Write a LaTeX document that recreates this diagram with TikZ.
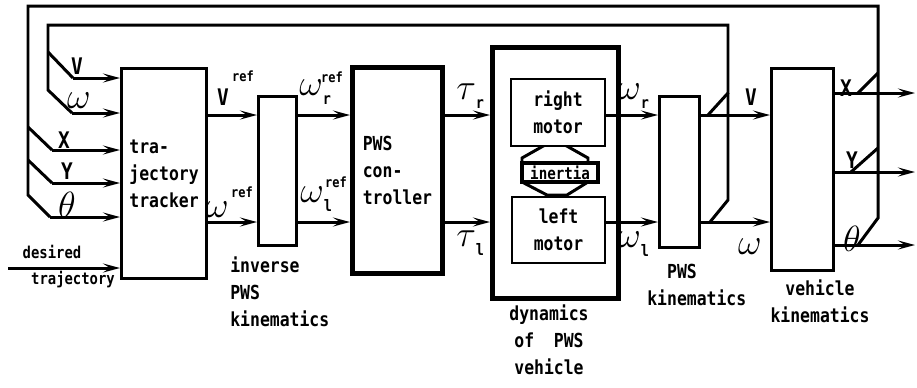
\documentclass[tikz,border=0pt]{standalone}
\usepackage{fontspec}
\usetikzlibrary{arrows.meta}
\newfontfamily\monofont{DejaVu Sans Mono}[FakeStretch=0.85]
\newcommand\mono[1]{\monofont\bfseries\fontsize{#1}{15.3}\selectfont}
\newcommand\sub[1]{\raisebox{-0.6ex}{\mono{9}#1}}
\begin{document}
\begin{tikzpicture}[x=0.02cm, y=-0.02cm, >={Stealth[length=3.4mm, width=1.8mm, inset=1.4mm]},
    box/.style={draw, line width=1.8pt, fill=white, inner sep=0pt, anchor=north west, align=left, font=\mono{11}},
    heavybox/.style={box, line width=2.8pt},
    motorbox/.style={box, line width=1.2pt, align=center},
    wire/.style={line width=1.7pt},
    sig/.style={wire, ->},
    lbl/.style={inner sep=0pt, font=\mono{11}},
    var/.style={inner sep=0pt, font=\mono{13}},
    sym/.style={inner sep=0pt, font=\fontsize{20}{20}\selectfont},
    rf/.style={inner sep=0pt, font=\mono{8}}]
  \useasboundingbox (0,0) rectangle (917,387);
  % blocks
  \node[box, minimum width=1.70cm, minimum height=4.20cm] (trk) at (120,67) {tra-\\jectory\\tracker};
  \node[box, minimum width=0.76cm, minimum height=2.98cm] (ipk) at (257,95) {};
  \node[heavybox, minimum width=1.80cm, minimum height=4.12cm] (ctl) at (350,65) {PWS\\con-\\troller};
  \node[heavybox, minimum width=2.52cm, minimum height=5.02cm] (dyn) at (490,45) {};
  \draw[wire, fill=white] (545,145) -- (565,145) -- (588,158) -- (588,182) -- (567,195) -- (547,195) -- (522,182) -- (522,158) -- cycle;
  \node[motorbox, minimum width=1.88cm, minimum height=1.34cm] (rmot) at (510,78) {right\\motor};
  \node[motorbox, minimum width=1.86cm, minimum height=1.32cm] (lmot) at (511,196) {left\\motor};
  \node[box, line width=2.4pt, minimum width=1.52cm, minimum height=0.38cm, align=center, font=\mono{9.5}] (inr) at (520,161) {inertia};
  \node[box, minimum width=0.80cm, minimum height=3.02cm] (pk) at (658,95) {};
  \node[box, minimum width=1.24cm, minimum height=4.04cm] (vk) at (770,67) {};
  % forward signals
  \coordinate (yr) at (0,115);
  \coordinate (yl) at (0,222);
  \foreach \a/\b/\r in {trk/ipk/yr, trk/ipk/yl, ipk/ctl/yr, ipk/ctl/yl, ctl/dyn/yr, ctl/dyn/yl, rmot/pk/yr, lmot/pk/yl, pk/vk/yr, pk/vk/yl}
    \draw[sig] (\a.east |- \r) -- (\b.west |- \r);
  \coordinate (outx) at (915,93);
  \coordinate (outy) at (915,172);
  \coordinate (outt) at (915,245);
  \foreach \p in {outx,outy,outt}
    \draw[sig] (vk.east |- \p) -- (\p);
  \coordinate (des) at (8,268);
  \draw[sig] (des) -- (des -| trk.west);
  % feedback of v, omega
  \coordinate (tapv) at (708,115);
  \coordinate (tapw) at (710,222);
  \draw[wire] (tapv) -- (728,93) |- (48,25) -- (48,90) -- (72,113) coordinate (inw);
  \draw[wire] (728,93) -- (728,200) -- (tapw);
  \draw[wire] (48,52) -- (73,78) coordinate (inv);
  % feedback of x, y, theta
  \coordinate (tapx) at (858,93);
  \coordinate (tapy) at (851,172);
  \coordinate (tapt) at (858,245);
  \draw[wire] (tapt) -- (878,218) -- (878,6) -| (28,195) -- (50,217) coordinate (int);
  \draw[wire] (tapx) -- (878,73);
  \draw[wire] (tapy) -- (878,148);
  \draw[wire] (28,127) -- (52,150) coordinate (inx);
  \draw[wire] (28,160) -- (52,183) coordinate (iny);
  \foreach \p in {inv,inw,inx,iny,int}
    \draw[sig] (\p) -- (\p -| trk.west);
  % labels
  \node[var] (lv) at (77,66) {V};
  \node[sym] (lw) at (79,101) {$\omega$};
  \node[var] (lx) at (64,140) {X};
  \node[var] (ly) at (67,171) {Y};
  \node[sym] (lt) at (67,205) {$\theta$};
  \node[lbl, font=\mono{9.3}] (ldes) at (52,252) {desired};
  \node[lbl, font=\mono{9.3}] (ltra) at (73,280) {trajectory};
  \node[var] (lvr) at (223,97) {V};
  \node[rf] (rvr) at (243,76) {ref};
  \node[sym] (lwr) at (217,210) {$\omega$};
  \node[rf] (rwr) at (242,192) {ref};
  \node[sym, anchor=west] (lwrr) at (299,92) {$\omega$\sub{r}};
  \node[rf] (rwrr) at (332,77) {ref};
  \node[sym, anchor=west] (lwlr) at (300,199) {$\omega$\sub{l}};
  \node[rf] (rwlr) at (336,182) {ref};
  \node[lbl, align=left, anchor=west] (lipk) at (230,292) {inverse\\PWS\\kinematics};
  \node[sym, anchor=west] (ltr) at (456,96) {$\tau$\sub{r}};
  \node[sym, anchor=west] (ltl) at (456,243) {$\tau$\sub{l}};
  \node[sym, anchor=west] (lwro) at (617,96) {$\omega$\sub{r}};
  \node[sym, anchor=west] (lwlo) at (617,244) {$\omega$\sub{l}};
  \node[lbl, align=center] (ldyn) at (549,340) {dynamics\\of\ \ PWS\\vehicle};
  \node[lbl, align=left, anchor=west] (lpk) at (647,285) {\ \ PWS\\kinematics};
  \node[var] (lvo) at (751,97) {V};
  \node[sym] (lwo) at (750,247) {$\omega$};
  \node[var] (lxo) at (846,88) {X};
  \node[var] (lyo) at (852,160) {Y};
  \node[sym] (lto) at (852,239) {$\theta$};
  \node[lbl, align=center] (lvk) at (820,301) {vehicle\\kinematics};
\end{tikzpicture}
\end{document}
